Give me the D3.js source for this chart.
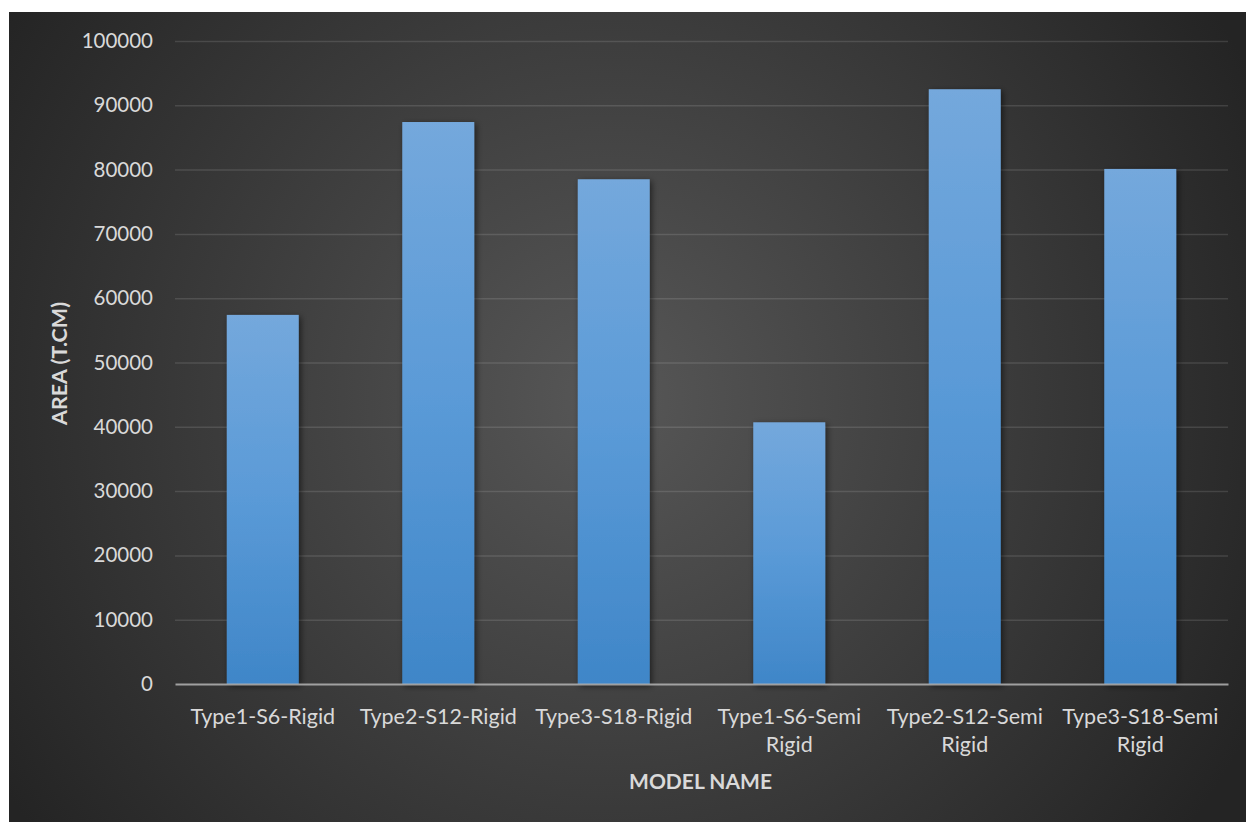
<!DOCTYPE html>
<html>
<head>
<meta charset="utf-8">
<script src="https://cdn.jsdelivr.net/npm/d3@7"></script>
<style>
  html, body { margin: 0; padding: 0; background: #ffffff; }
  svg { display: block; }
</style>
</head>
<body>
<svg id="chart" width="1246" height="822"></svg>
<script>
// Model names (each entry split into display lines) and their areas
const categories = [
  ["Type1-S6-Rigid"],
  ["Type2-S12-Rigid"],
  ["Type3-S18-Rigid"],
  ["Type1-S6-Semi", "Rigid"],
  ["Type2-S12-Semi", "Rigid"],
  ["Type3-S18-Semi", "Rigid"]
];
const areaValues = [57400, 87400, 78500, 40700, 92500, 80100];
const yTicks = [0, 10000, 20000, 30000, 40000, 50000, 60000, 70000, 80000, 90000, 100000];
const xTitle = "MODEL NAME";
const yTitle = "AREA (T.CM)";

const W = 1246, H = 822;
const frame = { x: 9, y: 12, w: W - 9, h: H - 12 };
const plot = { left: 175, right: 1228, top: 41, bottom: 684 };
const FONT = "Lato, 'Open Sans', sans-serif";
const textColor = "#d9d9d9";

const svg = d3.select("#chart");
const defs = svg.append("defs");

// Dark radial background
const bg = defs.append("radialGradient")
  .attr("id", "bgGrad")
  .attr("gradientUnits", "userSpaceOnUse")
  .attr("cx", 610).attr("cy", 400).attr("r", 720);
bg.append("stop").attr("offset", "0%").attr("stop-color", "#575757");
bg.append("stop").attr("offset", "100%").attr("stop-color", "#242424");

// Bar fill: lighter at top, deeper blue at base
const barGrad = defs.append("linearGradient")
  .attr("id", "barGrad")
  .attr("x1", 0).attr("y1", 0).attr("x2", 0).attr("y2", 1);
barGrad.append("stop").attr("offset", "0%").attr("stop-color", "#74a8dc");
barGrad.append("stop").attr("offset", "50%").attr("stop-color", "#5a9ad7");
barGrad.append("stop").attr("offset", "100%").attr("stop-color", "#3f86c8");

const shadow = defs.append("filter")
  .attr("id", "barShadow")
  .attr("x", "-30%").attr("y", "-10%").attr("width", "160%").attr("height", "130%");
shadow.append("feDropShadow")
  .attr("dx", 2).attr("dy", 2).attr("stdDeviation", 3)
  .attr("flood-color", "#000").attr("flood-opacity", 0.55);

svg.append("rect")
  .attr("x", frame.x).attr("y", frame.y)
  .attr("width", frame.w).attr("height", frame.h)
  .attr("fill", "url(#bgGrad)");

const x = d3.scaleBand()
  .domain(d3.range(categories.length))
  .range([plot.left, plot.right])
  .paddingInner(0.59)
  .paddingOuter(0.295);

const y = d3.scaleLinear()
  .domain([0, 100000])
  .range([plot.bottom, plot.top]);

// Horizontal gridlines with value labels
const yAxis = d3.axisLeft(y)
  .tickValues(yTicks)
  .tickSize(-(plot.right - plot.left))
  .tickPadding(22)
  .tickFormat(d3.format("d"));

const yg = svg.append("g")
  .attr("transform", `translate(${plot.left},0)`)
  .call(yAxis);
yg.select(".domain").remove();
yg.selectAll(".tick line")
  .attr("stroke", "#ffffff")
  .attr("stroke-opacity", 0.12)
  .attr("stroke-width", 1.5)
  .filter(d => d === 0).remove();
yg.selectAll(".tick text")
  .attr("fill", textColor)
  .style("font-family", FONT)
  .style("font-size", "20.5px");

// Bars
svg.append("g")
  .selectAll("rect")
  .data(areaValues)
  .join("rect")
  .attr("x", (d, i) => x(i))
  .attr("y", d => y(d))
  .attr("width", x.bandwidth())
  .attr("height", d => y(0) - y(d))
  .attr("fill", "url(#barGrad)")
  .attr("filter", "url(#barShadow)");

// Category axis along the baseline
const xAxis = d3.axisBottom(x).tickSize(0).tickFormat(() => "");
const xg = svg.append("g")
  .attr("transform", `translate(0,${plot.bottom})`)
  .call(xAxis);
xg.select(".domain")
  .attr("stroke", "#b4b4b4")
  .attr("stroke-opacity", 0.85)
  .attr("stroke-width", 2);

const labels = xg.selectAll(".tick text")
  .attr("fill", textColor)
  .style("font-family", FONT)
  .style("font-size", "21.5px")
  .attr("y", 0)
  .attr("dy", 0);
labels.each(function(d) {
  const t = d3.select(this);
  categories[d].forEach((line, k) => {
    t.append("tspan")
      .attr("x", 0)
      .attr("y", 40 + k * 28)
      .text(line);
  });
});

// Axis titles
svg.append("text")
  .attr("x", (plot.left + plot.right) / 2 - 1)
  .attr("y", 789)
  .attr("text-anchor", "middle")
  .attr("fill", textColor)
  .style("font-family", FONT)
  .style("font-weight", "bold")
  .style("font-size", "21px")
  .text(xTitle);

svg.append("text")
  .attr("transform", `translate(67,${(plot.top + plot.bottom) / 2 + 1}) rotate(-90)`)
  .attr("text-anchor", "middle")
  .attr("fill", textColor)
  .style("font-family", FONT)
  .style("font-weight", "bold")
  .style("font-size", "21.5px")
  .text(yTitle);
</script>
</body>
</html>
